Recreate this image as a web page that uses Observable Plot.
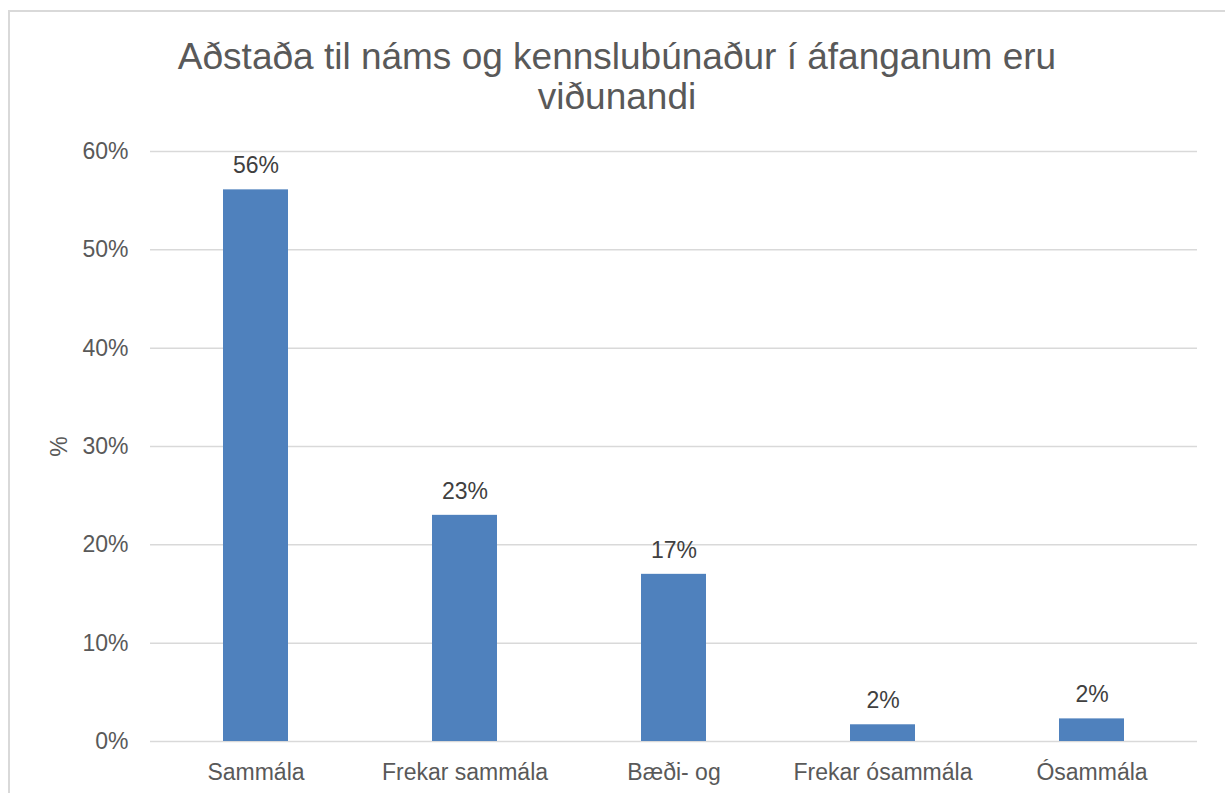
<!DOCTYPE html>
<html>
<head>
<meta charset="utf-8">
<script src="https://cdn.jsdelivr.net/npm/d3@7"></script>
<script src="https://cdn.jsdelivr.net/npm/@observablehq/plot@0.6"></script>
<style>
  html, body { margin: 0; padding: 0; background: #fff; }
  #wrap { position: relative; width: 1225px; height: 793px; overflow: hidden; font-family: "Liberation Sans", Arial, sans-serif; }
  #frame { position: absolute; left: 8px; top: 10px; width: 1240px; height: 820px; border: 2px solid #d9d9d9; box-sizing: border-box; }
  #title { position: absolute; left: 8px; width: 1218px; top: 37px; text-align: center; font-size: 37px; line-height: 40px; color: #595959; }
  #chart { position: absolute; left: 0; top: 130px; }
</style>
</head>
<body>
<div id="wrap">
  <div id="frame"></div>
  <div id="title">Aðstaða til náms og kennslubúnaður í áfanganum eru<br>viðunandi</div>
  <div id="chart"></div>
</div>
<script>
const categories = ["Sammála", "Frekar sammála", "Bæði- og", "Frekar ósammála", "Ósammála"];
const values = [0.561, 0.23, 0.17, 0.017, 0.023];
const labels = ["56%", "23%", "17%", "2%", "2%"];
const yTicks = [0, 0.1, 0.2, 0.3, 0.4, 0.5, 0.6];

const data = categories.map((c, i) => ({ cat: c, value: values[i], label: labels[i] }));

const chart = Plot.plot({
  width: 1225,
  height: 663,
  marginLeft: 150,
  marginRight: 28,
  marginTop: 21,
  marginBottom: 52,
  style: { fontFamily: "'Liberation Sans', Arial, sans-serif", fontSize: "23px", color: "#595959", background: "transparent" },
  x: { domain: categories, paddingInner: 0.69, paddingOuter: 0.345, label: null },
  y: { domain: [0, 0.6], label: null },
  marks: [
    Plot.gridY(yTicks, { stroke: "#d9d9d9", strokeOpacity: 1, strokeWidth: 1.5 }),
    Plot.axisY(yTicks, { tickFormat: d3.format(".0%"), tickSize: 0, tickPadding: 22, fill: "#595959", fontSize: 23, label: "%", labelAnchor: "center", labelArrow: "none", labelOffset: 100 }),
    Plot.axisX({ tickSize: 0, tickPadding: 22, fill: "#595959", fontSize: 23, label: null }),
    Plot.barY(data, { x: "cat", y: "value", fill: "#4f81bd" }),
    Plot.text(data, { x: "cat", y: "value", text: "label", dy: -24, fill: "#404040", fontSize: 23 })
  ]
});
document.getElementById("chart").appendChild(chart);
</script>
</body>
</html>
